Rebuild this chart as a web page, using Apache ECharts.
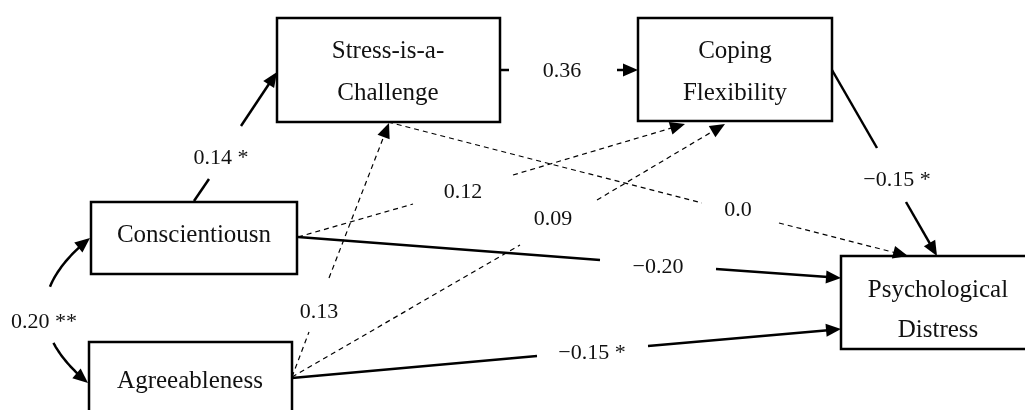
<!DOCTYPE html>
<html>
<head>
<meta charset="utf-8">
<script src="https://cdn.jsdelivr.net/npm/echarts@6/dist/echarts.min.js"></script>
<style>
html,body{margin:0;padding:0;background:#fff;}
#chart{width:1025px;height:410px;}
</style>
</head>
<body>
<div id="chart"></div>
<script>
// ---- data ----
const nodeNames = ['Stress-is-a-\nChallenge', 'Coping\nFlexibility', 'Conscientiousn', 'Agreeableness', 'Psychological\nDistress'];
const pathFrom = [2, 0, 2, 3, 3, 0, 1, 2, 3];
const pathTo = [0, 1, 1, 0, 1, 4, 4, 4, 4];
const pathLabels = ['0.14 *', '0.36', '0.12', '0.13', '0.09', '0.0', '\u22120.15 *', '\u22120.20', '\u22120.15 *'];
const pathSignificant = [true, true, false, false, false, false, true, true, true];
const covPair = [2, 3];
const covLabel = '0.20 **';

// ---- layout (pixel positions in the 1025x410 drawing space) ----
const boxLayout = [
  { x0: 277, y0: 18, x1: 500, y1: 122, tx: 388, ty: 72, lh: 42 },
  { x0: 638, y0: 18, x1: 832, y1: 121, tx: 735, ty: 72, lh: 42 },
  { x0: 91, y0: 202, x1: 297, y1: 274, tx: 194, ty: 235, lh: 40 },
  { x0: 89, y0: 342, x1: 292, y1: 425, tx: 190, ty: 381, lh: 40 },
  { x0: 841, y0: 256, x1: 1040, y1: 349, tx: 938, ty: 310, lh: 40 }
];
// start, gap start, label, gap end, tip
const pathLayout = [
  { s: [194, 201], g1: [209, 179], l: [221, 158], g2: [241, 126], t: [277, 72] },
  { s: [500, 70], g1: [509, 70], l: [562, 71], g2: [617, 70], t: [638, 70] },
  { s: [298, 237], g1: [413, 204], l: [463, 192], g2: [513, 175], t: [685, 124] },
  { s: [292, 377], g1: [309, 332], l: [319, 312], g2: [329, 278], t: [389, 123] },
  { s: [292, 377], g1: [520, 245], l: [553, 219], g2: [597, 200], t: [725, 124] },
  { s: [388, 122], g1: [702, 203], l: [738, 210], g2: [779, 223], t: [908, 256] },
  { s: [832, 70], g1: [877, 148], l: [897, 180], g2: [906, 202], t: [937, 256] },
  { s: [298, 237], g1: [600, 260], l: [658, 267], g2: [716, 269], t: [841, 278] },
  { s: [292, 378], g1: [537, 356], l: [592, 353], g2: [648, 346], t: [841, 329] }
];
const covLayout = { p0: [90, 238], c: [1, 310], p2: [88, 383], gapTop: 288, gapBottom: 342, l: [44, 322] };

const FONT = 'Liberation Serif';
const BOX_FONT = 25;
const LABEL_FONT = 22;
const ARROW_LEN = 15;
const ARROW_HALF = 6.5;

function arrowHead(tip, from) {
  const dx = tip[0] - from[0], dy = tip[1] - from[1];
  const len = Math.sqrt(dx * dx + dy * dy) || 1;
  const ux = dx / len, uy = dy / len;
  const bx = tip[0] - ux * ARROW_LEN, by = tip[1] - uy * ARROW_LEN;
  return {
    base: [tip[0] - ux * (ARROW_LEN - 2), tip[1] - uy * (ARROW_LEN - 2)],
    points: [tip, [bx - uy * ARROW_HALF, by + ux * ARROW_HALF], [bx + uy * ARROW_HALF, by - ux * ARROW_HALF]]
  };
}

const chart = echarts.init(document.getElementById('chart'), null, { renderer: 'canvas' });

const option = {
  animation: false,
  backgroundColor: '#ffffff',
  grid: { left: 0, right: 0, top: 0, bottom: 0 },
  xAxis: { type: 'value', min: 0, max: 1025, show: false },
  yAxis: { type: 'value', min: 0, max: 410, inverse: true, show: false },
  series: [
    {
      type: 'custom',
      name: 'boxes',
      clip: false,
      data: nodeNames.map((n, i) => [i]),
      encode: { x: 0, y: 0 },
      renderItem: function (params, api) {
        const i = api.value(0);
        const b = boxLayout[i];
        const p0 = api.coord([b.x0, b.y0]);
        const p1 = api.coord([b.x1, b.y1]);
        const tc = api.coord([b.tx, b.ty]);
        return {
          type: 'group',
          children: [
            {
              type: 'rect',
              shape: { x: p0[0], y: p0[1], width: p1[0] - p0[0], height: p1[1] - p0[1] },
              style: { fill: '#fff', stroke: '#000', lineWidth: 2.5 }
            },
            {
              type: 'text',
              x: tc[0], y: tc[1],
              style: {
                text: nodeNames[i], fill: '#111', fontFamily: FONT, fontSize: BOX_FONT,
                align: 'center', verticalAlign: 'middle', lineHeight: b.lh
              }
            }
          ]
        };
      }
    },
    {
      type: 'custom',
      name: 'paths',
      clip: false,
      z: 3,
      data: pathLabels.map((n, i) => [i]),
      encode: { x: 0, y: 0 },
      renderItem: function (params, api) {
        const i = api.value(0);
        const L = pathLayout[i];
        const s = api.coord(L.s), g1 = api.coord(L.g1), g2 = api.coord(L.g2), t = api.coord(L.t), l = api.coord(L.l);
        const solid = pathSignificant[i];
        const lineStyle = solid
          ? { stroke: '#000', lineWidth: 2.5, fill: null }
          : { stroke: '#000', lineWidth: 1.2, lineDash: [5, 4], fill: null };
        const ah = arrowHead(t, g2);
        return {
          type: 'group',
          children: [
            { type: 'line', shape: { x1: s[0], y1: s[1], x2: g1[0], y2: g1[1] }, style: lineStyle },
            { type: 'line', shape: { x1: g2[0], y1: g2[1], x2: ah.base[0], y2: ah.base[1] }, style: lineStyle },
            { type: 'polygon', shape: { points: ah.points }, style: { fill: '#000', stroke: null } },
            {
              type: 'text', x: l[0], y: l[1],
              style: {
                text: pathLabels[i], fill: '#111', fontFamily: FONT, fontSize: LABEL_FONT,
                align: 'center', verticalAlign: 'middle'
              }
            }
          ]
        };
      }
    },
    {
      type: 'custom',
      name: 'covariance',
      clip: false,
      z: 3,
      data: [[covPair[0], covPair[1]]],
      encode: { x: 0, y: 1 },
      renderItem: function (params, api) {
        const C = covLayout;
        const upper = [], lower = [];
        const N = 80;
        for (let k = 0; k <= N; k++) {
          const tt = k / N;
          const a = (1 - tt) * (1 - tt), b = 2 * tt * (1 - tt), c = tt * tt;
          const x = a * C.p0[0] + b * C.c[0] + c * C.p2[0];
          const y = a * C.p0[1] + b * C.c[1] + c * C.p2[1];
          if (y <= C.gapTop && tt > 0.03) upper.push(api.coord([x, y]));
          if (y >= C.gapBottom && tt < 0.97) lower.push(api.coord([x, y]));
        }
        const p0 = api.coord(C.p0), p2 = api.coord(C.p2), cc = api.coord(C.c), l = api.coord(C.l);
        const ah1 = arrowHead(p0, cc);
        const ah2 = arrowHead(p2, cc);
        const st = { stroke: '#000', lineWidth: 2.5, fill: null };
        return {
          type: 'group',
          children: [
            { type: 'polyline', shape: { points: upper }, style: st },
            { type: 'polyline', shape: { points: lower }, style: st },
            { type: 'polygon', shape: { points: ah1.points }, style: { fill: '#000' } },
            { type: 'polygon', shape: { points: ah2.points }, style: { fill: '#000' } },
            {
              type: 'text', x: l[0], y: l[1],
              style: {
                text: covLabel, fill: '#111', fontFamily: FONT, fontSize: LABEL_FONT,
                align: 'center', verticalAlign: 'middle'
              }
            }
          ]
        };
      }
    }
  ]
};
chart.setOption(option);
</script>
</body>
</html>
